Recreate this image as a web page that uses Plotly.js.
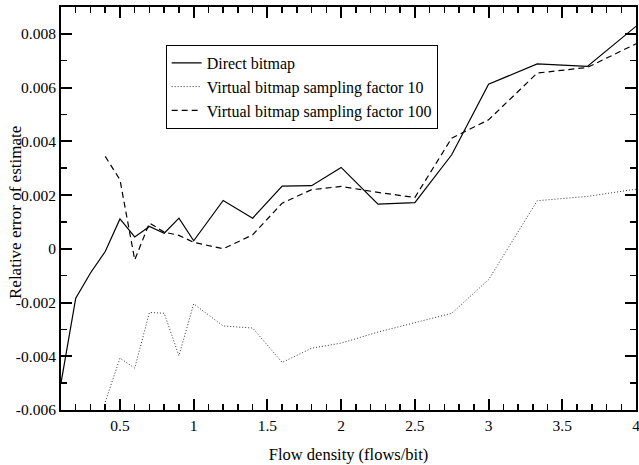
<!DOCTYPE html>
<html>
<head>
<meta charset="utf-8">
<script src="https://cdn.plot.ly/plotly-3.0.1.min.js"></script>
<style>html,body{margin:0;padding:0;background:#fff;}#chart{width:639px;height:465px;}</style>
</head>
<body>
<div id="chart"></div>
<script>
// Flow density (flows/bit)
const xDirect = [0.1, 0.2, 0.3, 0.4, 0.5, 0.6, 0.7, 0.8, 0.9, 1.0, 1.2, 1.4, 1.6, 1.8, 2.0, 2.25, 2.5, 2.75, 3.0, 3.33, 3.67, 4.0];
const yDirect = [-0.0050, -0.00184, -0.0009, -0.0001, 0.00111, 0.00044, 0.00083, 0.00058, 0.00114, 0.0003, 0.0018, 0.00114, 0.00233, 0.00235, 0.00303, 0.00166, 0.00172, 0.0035, 0.00613, 0.00688, 0.00679, 0.00828];

const xVirt10 = [0.4, 0.5, 0.6, 0.7, 0.8, 0.9, 1.0, 1.2, 1.4, 1.6, 1.8, 2.0, 2.25, 2.5, 2.75, 3.0, 3.33, 3.67, 4.0];
const yVirt10 = [-0.0057, -0.00407, -0.00444, -0.00237, -0.0024, -0.00398, -0.00205, -0.00287, -0.00295, -0.00423, -0.0037, -0.00351, -0.0031, -0.00276, -0.0024, -0.00115, 0.00179, 0.00195, 0.00222];

const xVirt100 = [0.4, 0.5, 0.6, 0.7, 0.8, 0.9, 1.0, 1.2, 1.4, 1.6, 1.8, 2.0, 2.25, 2.5, 2.75, 3.0, 3.33, 3.67, 4.0];
const yVirt100 = [0.00344, 0.00257, -0.00041, 0.00096, 0.00062, 0.0005, 0.00024, 0.0, 0.00052, 0.0017, 0.0022, 0.00232, 0.0021, 0.00191, 0.00412, 0.0048, 0.00654, 0.00675, 0.00763];

const seriesNames = ["Direct bitmap", "Virtual bitmap sampling factor 10", "Virtual bitmap sampling factor 100"];
const xTickVals = [0.5, 1, 1.5, 2, 2.5, 3, 3.5, 4];
const xTickText = ["0.5", "1", "1.5", "2", "2.5", "3", "3.5", "4"];
const yTickVals = [-0.006, -0.004, -0.002, 0, 0.002, 0.004, 0.006, 0.008];
const yTickText = ["-0.006", "-0.004", "-0.002", "0", "0.002", "0.004", "0.006", "0.008"];

const FONT = '"Liberation Serif", "Times New Roman", Times, serif';

const traces = [
  {x: xDirect, y: yDirect, name: seriesNames[0], mode: 'lines', line: {color: '#000', width: 1.2}},
  {x: xVirt10, y: yVirt10, name: seriesNames[1], mode: 'lines', line: {color: '#333', width: 1, dash: '1px,2px'}},
  {x: xVirt100, y: yVirt100, name: seriesNames[2], mode: 'lines', line: {color: '#000', width: 1.2, dash: '6px,4px'}}
];

const axisCommon = {
  showline: true, linecolor: '#000', linewidth: 2, mirror: 'allticks',
  ticks: 'inside', ticklen: 11, tickwidth: 2, tickcolor: '#000',
  showgrid: false, zeroline: false, ticklabeloverflow: 'allow',
  tickfont: {family: FONT, size: 15.5, color: '#000'}
};

const layout = {
  width: 639, height: 465,
  margin: {l: 61, r: 3, t: 7, b: 55},
  paper_bgcolor: '#fff', plot_bgcolor: '#fff',
  font: {family: FONT, size: 15.5, color: '#000'},
  showlegend: true,
  legend: {
    x: 0.182, y: 0.906, xanchor: 'left', yanchor: 'top',
    bgcolor: '#fff', bordercolor: '#000', borderwidth: 1,
    font: {family: FONT, size: 16, color: '#000'}
  },
  xaxis: Object.assign({}, axisCommon, {
    range: [0.1, 4], tickmode: 'array', tickvals: xTickVals, ticktext: xTickText,
    minor: {dtick: 0.1, tick0: 0, ticks: 'inside', ticklen: 6, tickwidth: 1.5, tickcolor: '#000', showgrid: false},
    title: {text: 'Flow density (flows/bit)', font: {family: FONT, size: 16.5, color: '#000'}, standoff: 16}
  }),
  yaxis: Object.assign({}, axisCommon, {
    range: [-0.006, 0.009], tickmode: 'array', tickvals: yTickVals, ticktext: yTickText,
    minor: {dtick: 0.001, tick0: 0, ticks: 'inside', ticklen: 6, tickwidth: 1.5, tickcolor: '#000', showgrid: false},
    automargin: false
  }),
  annotations: [{
    text: 'Relative error of estimate', textangle: -90,
    xref: 'paper', yref: 'paper', x: (16 - 61) / 575, y: (410 - 213) / 403,
    xanchor: 'center', yanchor: 'middle', showarrow: false,
    font: {family: FONT, size: 17, color: '#000'}
  }]
};

Plotly.newPlot('chart', traces, layout, {displayModeBar: false, staticPlot: true});
</script>
</body>
</html>
